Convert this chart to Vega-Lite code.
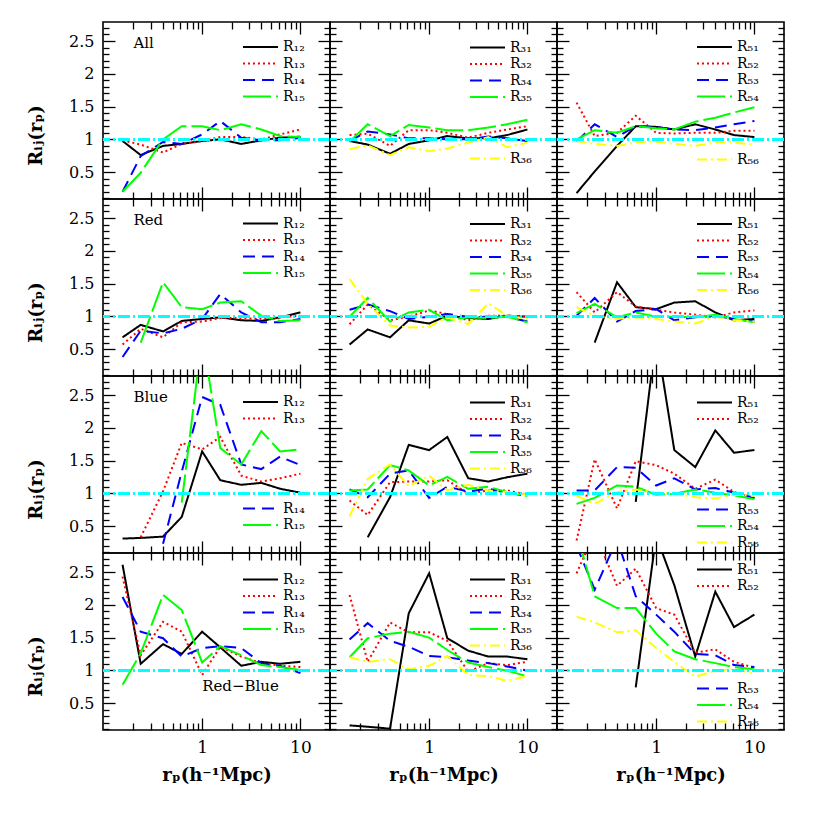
{
"$schema":"https://vega.github.io/schema/vega-lite/v6.json",
"background":"white",
"padding":{"left":26,"top":20,"right":5,"bottom":5},
"config":{
 "view":{"stroke":"black","strokeWidth":1.6},
 "axis":{"grid":false,"domain":false,"tickColor":"black","tickWidth":1.3,"labelFont":"DejaVu Serif","labelFontSize":16,"labelColor":"black","titleFont":"DejaVu Serif","titleFontSize":18,"titleFontWeight":"bold","titleColor":"black","labelOverlap":false,"labelFlush":false},
 "legend":{"orient":"none","symbolType":"stroke","symbolSize":1225,"symbolStrokeWidth":2,"labelFont":"DejaVu Serif","labelFontSize":14,"labelColor":"black","labelOffset":4,"rowPadding":0.5,"clipHeight":16,"padding":0,"labelLimit":0}
},
"datasets":{
"A1":[
{"s":"R₁₂","x":0.155,"y":0.975},{"s":"R₁₂","x":0.237,"y":0.76},{"s":"R₁₂","x":0.4,"y":0.9},{"s":"R₁₂","x":0.62,"y":0.93},{"s":"R₁₂","x":1,"y":0.975},{"s":"R₁₂","x":1.53,"y":1.0},{"s":"R₁₂","x":2.5,"y":0.93},{"s":"R₁₂","x":4,"y":0.985},{"s":"R₁₂","x":6.2,"y":1.025},{"s":"R₁₂","x":10,"y":1.04},
{"s":"R₁₃","x":0.155,"y":0.985},{"s":"R₁₃","x":0.237,"y":0.92},{"s":"R₁₃","x":0.4,"y":0.8},{"s":"R₁₃","x":0.62,"y":0.93},{"s":"R₁₃","x":1,"y":0.975},{"s":"R₁₃","x":1.53,"y":1.035},{"s":"R₁₃","x":2.5,"y":1.035},{"s":"R₁₃","x":4,"y":1.0},{"s":"R₁₃","x":6.2,"y":1.075},{"s":"R₁₃","x":10,"y":1.15},
{"s":"R₁₄","x":0.155,"y":0.2},{"s":"R₁₄","x":0.237,"y":0.745},{"s":"R₁₄","x":0.4,"y":0.96},{"s":"R₁₄","x":0.62,"y":0.93},{"s":"R₁₄","x":1,"y":1.075},{"s":"R₁₄","x":1.53,"y":1.28},{"s":"R₁₄","x":2.5,"y":1.025},{"s":"R₁₄","x":4,"y":0.985},{"s":"R₁₄","x":6.2,"y":0.985},{"s":"R₁₄","x":10,"y":1.025},
{"s":"R₁₅","x":0.155,"y":0.2},{"s":"R₁₅","x":0.237,"y":0.49},{"s":"R₁₅","x":0.4,"y":1.0},{"s":"R₁₅","x":0.62,"y":1.2},{"s":"R₁₅","x":1,"y":1.2},{"s":"R₁₅","x":1.53,"y":1.14},{"s":"R₁₅","x":2.5,"y":1.23},{"s":"R₁₅","x":4,"y":1.15},{"s":"R₁₅","x":6.2,"y":1.05},{"s":"R₁₅","x":10,"y":1.035}
],
"A2":[
{"s":"R₃₁","x":0.155,"y":0.975},{"s":"R₃₁","x":0.237,"y":0.92},{"s":"R₃₁","x":0.4,"y":0.78},{"s":"R₃₁","x":0.62,"y":0.93},{"s":"R₃₁","x":1,"y":0.985},{"s":"R₃₁","x":1.53,"y":1.05},{"s":"R₃₁","x":2.5,"y":1.015},{"s":"R₃₁","x":4,"y":1.015},{"s":"R₃₁","x":6.2,"y":1.065},{"s":"R₃₁","x":10,"y":1.15},
{"s":"R₃₂","x":0.155,"y":1.065},{"s":"R₃₂","x":0.237,"y":1.087},{"s":"R₃₂","x":0.4,"y":0.9},{"s":"R₃₂","x":0.62,"y":1.14},{"s":"R₃₂","x":1,"y":1.14},{"s":"R₃₂","x":1.53,"y":1.1},{"s":"R₃₂","x":2.5,"y":1.025},{"s":"R₃₂","x":4,"y":1.1},{"s":"R₃₂","x":6.2,"y":1.15},{"s":"R₃₂","x":10,"y":1.2},
{"s":"R₃₄","x":0.155,"y":0.975},{"s":"R₃₄","x":0.237,"y":1.12},{"s":"R₃₄","x":0.4,"y":1.075},{"s":"R₃₄","x":0.62,"y":1.015},{"s":"R₃₄","x":1,"y":1.015},{"s":"R₃₄","x":1.53,"y":1.0},{"s":"R₃₄","x":2.5,"y":1.0},{"s":"R₃₄","x":4,"y":1.045},{"s":"R₃₄","x":6.2,"y":1.015},{"s":"R₃₄","x":10,"y":0.975},
{"s":"R₃₅","x":0.155,"y":0.965},{"s":"R₃₅","x":0.237,"y":1.23},{"s":"R₃₅","x":0.4,"y":1.05},{"s":"R₃₅","x":0.62,"y":1.22},{"s":"R₃₅","x":1,"y":1.18},{"s":"R₃₅","x":1.53,"y":1.14},{"s":"R₃₅","x":2.5,"y":1.14},{"s":"R₃₅","x":4,"y":1.18},{"s":"R₃₅","x":6.2,"y":1.23},{"s":"R₃₅","x":10,"y":1.3},
{"s":"R₃₆","x":0.155,"y":0.85},{"s":"R₃₆","x":0.237,"y":0.91},{"s":"R₃₆","x":0.4,"y":0.76},{"s":"R₃₆","x":0.62,"y":0.88},{"s":"R₃₆","x":1,"y":0.82},{"s":"R₃₆","x":1.53,"y":0.86},{"s":"R₃₆","x":2.5,"y":0.95},{"s":"R₃₆","x":4,"y":1.035},{"s":"R₃₆","x":6.2,"y":0.88},{"s":"R₃₆","x":10,"y":0.95}
],
"A3":[
{"s":"R₅₁","x":0.155,"y":0.18},{"s":"R₅₁","x":0.237,"y":0.51},{"s":"R₅₁","x":0.4,"y":0.9},{"s":"R₅₁","x":0.62,"y":1.2},{"s":"R₅₁","x":1,"y":1.19},{"s":"R₅₁","x":1.53,"y":1.15},{"s":"R₅₁","x":2.5,"y":1.23},{"s":"R₅₁","x":4,"y":1.15},{"s":"R₅₁","x":6.2,"y":1.065},{"s":"R₅₁","x":10,"y":1.035},
{"s":"R₅₂","x":0.155,"y":1.56},{"s":"R₅₂","x":0.237,"y":1.05},{"s":"R₅₂","x":0.4,"y":1.1},{"s":"R₅₂","x":0.62,"y":1.36},{"s":"R₅₂","x":1,"y":1.1},{"s":"R₅₂","x":1.53,"y":1.09},{"s":"R₅₂","x":2.5,"y":1.1},{"s":"R₅₂","x":4,"y":1.1},{"s":"R₅₂","x":6.2,"y":1.13},{"s":"R₅₂","x":10,"y":1.13},
{"s":"R₅₃","x":0.155,"y":0.965},{"s":"R₅₃","x":0.237,"y":1.23},{"s":"R₅₃","x":0.4,"y":1.035},{"s":"R₅₃","x":0.62,"y":1.2},{"s":"R₅₃","x":1,"y":1.19},{"s":"R₅₃","x":1.53,"y":1.15},{"s":"R₅₃","x":2.5,"y":1.14},{"s":"R₅₃","x":4,"y":1.18},{"s":"R₅₃","x":6.2,"y":1.23},{"s":"R₅₃","x":10,"y":1.28},
{"s":"R₅₄","x":0.155,"y":1.0},{"s":"R₅₄","x":0.237,"y":1.14},{"s":"R₅₄","x":0.4,"y":1.1},{"s":"R₅₄","x":0.62,"y":1.2},{"s":"R₅₄","x":1,"y":1.17},{"s":"R₅₄","x":1.53,"y":1.15},{"s":"R₅₄","x":2.5,"y":1.27},{"s":"R₅₄","x":4,"y":1.33},{"s":"R₅₄","x":6.2,"y":1.41},{"s":"R₅₄","x":10,"y":1.49},
{"s":"R₅₆","x":0.155,"y":0.975},{"s":"R₅₆","x":0.237,"y":0.93},{"s":"R₅₆","x":0.4,"y":0.9},{"s":"R₅₆","x":0.62,"y":0.95},{"s":"R₅₆","x":1,"y":0.965},{"s":"R₅₆","x":1.53,"y":0.93},{"s":"R₅₆","x":2.5,"y":0.9},{"s":"R₅₆","x":4,"y":0.95},{"s":"R₅₆","x":6.2,"y":0.95},{"s":"R₅₆","x":10,"y":0.92}
],
"B1":[
{"s":"R₁₂","x":0.155,"y":0.68},{"s":"R₁₂","x":0.237,"y":0.87},{"s":"R₁₂","x":0.4,"y":0.77},{"s":"R₁₂","x":0.62,"y":0.93},{"s":"R₁₂","x":1,"y":0.96},{"s":"R₁₂","x":1.53,"y":0.985},{"s":"R₁₂","x":2.5,"y":0.94},{"s":"R₁₂","x":4,"y":0.93},{"s":"R₁₂","x":6.2,"y":0.985},{"s":"R₁₂","x":10,"y":1.06},
{"s":"R₁₃","x":0.155,"y":0.57},{"s":"R₁₃","x":0.237,"y":0.81},{"s":"R₁₃","x":0.4,"y":0.68},{"s":"R₁₃","x":0.62,"y":0.91},{"s":"R₁₃","x":1,"y":0.92},{"s":"R₁₃","x":1.53,"y":0.975},{"s":"R₁₃","x":2.5,"y":0.975},{"s":"R₁₃","x":4,"y":0.96},{"s":"R₁₃","x":6.2,"y":0.985},{"s":"R₁₃","x":10,"y":1.01},
{"s":"R₁₄","x":0.155,"y":0.38},{"s":"R₁₄","x":0.237,"y":0.78},{"s":"R₁₄","x":0.4,"y":0.74},{"s":"R₁₄","x":0.62,"y":0.81},{"s":"R₁₄","x":1,"y":0.96},{"s":"R₁₄","x":1.53,"y":1.34},{"s":"R₁₄","x":2.5,"y":1.06},{"s":"R₁₄","x":4,"y":0.91},{"s":"R₁₄","x":6.2,"y":0.91},{"s":"R₁₄","x":10,"y":0.96},
{"s":"R₁₅","x":0.237,"y":0.6},{"s":"R₁₅","x":0.4,"y":1.52},{"s":"R₁₅","x":0.62,"y":1.14},{"s":"R₁₅","x":1,"y":1.11},{"s":"R₁₅","x":1.53,"y":1.21},{"s":"R₁₅","x":2.5,"y":1.23},{"s":"R₁₅","x":4,"y":1.01},{"s":"R₁₅","x":6.2,"y":0.93},{"s":"R₁₅","x":10,"y":0.94}
],
"B2":[
{"s":"R₃₁","x":0.155,"y":0.57},{"s":"R₃₁","x":0.237,"y":0.8},{"s":"R₃₁","x":0.4,"y":0.68},{"s":"R₃₁","x":0.62,"y":0.94},{"s":"R₃₁","x":1,"y":0.89},{"s":"R₃₁","x":1.53,"y":1.01},{"s":"R₃₁","x":2.5,"y":0.975},{"s":"R₃₁","x":4,"y":0.96},{"s":"R₃₁","x":6.2,"y":1.01},{"s":"R₃₁","x":10,"y":0.995},
{"s":"R₃₂","x":0.155,"y":0.88},{"s":"R₃₂","x":0.237,"y":1.18},{"s":"R₃₂","x":0.4,"y":0.94},{"s":"R₃₂","x":0.62,"y":0.995},{"s":"R₃₂","x":1,"y":1.09},{"s":"R₃₂","x":1.53,"y":1.035},{"s":"R₃₂","x":2.5,"y":0.94},{"s":"R₃₂","x":4,"y":1.01},{"s":"R₃₂","x":6.2,"y":1.01},{"s":"R₃₂","x":10,"y":0.995},
{"s":"R₃₄","x":0.155,"y":1.1},{"s":"R₃₄","x":0.237,"y":1.18},{"s":"R₃₄","x":0.4,"y":1.08},{"s":"R₃₄","x":0.62,"y":0.96},{"s":"R₃₄","x":1,"y":0.995},{"s":"R₃₄","x":1.53,"y":1.035},{"s":"R₃₄","x":2.5,"y":0.995},{"s":"R₃₄","x":4,"y":0.985},{"s":"R₃₄","x":6.2,"y":0.995},{"s":"R₃₄","x":10,"y":0.92},
{"s":"R₃₅","x":0.155,"y":0.995},{"s":"R₃₅","x":0.237,"y":1.28},{"s":"R₃₅","x":0.4,"y":0.92},{"s":"R₃₅","x":0.62,"y":1.06},{"s":"R₃₅","x":1,"y":1.1},{"s":"R₃₅","x":1.53,"y":0.94},{"s":"R₃₅","x":2.5,"y":0.985},{"s":"R₃₅","x":4,"y":0.975},{"s":"R₃₅","x":6.2,"y":0.995},{"s":"R₃₅","x":10,"y":0.91},
{"s":"R₃₆","x":0.155,"y":1.57},{"s":"R₃₆","x":0.237,"y":1.19},{"s":"R₃₆","x":0.4,"y":0.86},{"s":"R₃₆","x":0.62,"y":0.83},{"s":"R₃₆","x":1,"y":0.84},{"s":"R₃₆","x":1.53,"y":0.985},{"s":"R₃₆","x":2.5,"y":0.88},{"s":"R₃₆","x":4,"y":1.2},{"s":"R₃₆","x":6.2,"y":1.01},{"s":"R₃₆","x":10,"y":0.96}
],
"B3":[
{"s":"R₅₁","x":0.237,"y":0.6},{"s":"R₅₁","x":0.4,"y":1.52},{"s":"R₅₁","x":0.62,"y":1.14},{"s":"R₅₁","x":1,"y":1.11},{"s":"R₅₁","x":1.53,"y":1.21},{"s":"R₅₁","x":2.5,"y":1.23},{"s":"R₅₁","x":4,"y":1.06},{"s":"R₅₁","x":6.2,"y":0.94},{"s":"R₅₁","x":10,"y":0.96},
{"s":"R₅₂","x":0.155,"y":1.37},{"s":"R₅₂","x":0.237,"y":1.06},{"s":"R₅₂","x":0.4,"y":1.37},{"s":"R₅₂","x":0.62,"y":1.15},{"s":"R₅₂","x":1,"y":1.1},{"s":"R₅₂","x":1.53,"y":1.06},{"s":"R₅₂","x":2.5,"y":1.025},{"s":"R₅₂","x":4,"y":0.985},{"s":"R₅₂","x":6.2,"y":1.06},{"s":"R₅₂","x":10,"y":1.09},
{"s":"R₅₃","x":0.155,"y":1.01},{"s":"R₅₃","x":0.237,"y":1.28},{"s":"R₅₃","x":0.4,"y":0.92},{"s":"R₅₃","x":0.62,"y":1.08},{"s":"R₅₃","x":1,"y":1.11},{"s":"R₅₃","x":1.53,"y":0.94},{"s":"R₅₃","x":2.5,"y":0.985},{"s":"R₅₃","x":4,"y":1.01},{"s":"R₅₃","x":6.2,"y":0.96},{"s":"R₅₃","x":10,"y":0.92},
{"s":"R₅₄","x":0.155,"y":1.05},{"s":"R₅₄","x":0.237,"y":1.19},{"s":"R₅₄","x":0.4,"y":0.985},{"s":"R₅₄","x":0.62,"y":1.06},{"s":"R₅₄","x":1,"y":0.995},{"s":"R₅₄","x":1.53,"y":0.995},{"s":"R₅₄","x":2.5,"y":0.985},{"s":"R₅₄","x":4,"y":1.025},{"s":"R₅₄","x":6.2,"y":0.96},{"s":"R₅₄","x":10,"y":0.91},
{"s":"R₅₆","x":0.155,"y":1.14},{"s":"R₅₆","x":0.237,"y":1.01},{"s":"R₅₆","x":0.4,"y":0.96},{"s":"R₅₆","x":0.62,"y":0.985},{"s":"R₅₆","x":1,"y":0.96},{"s":"R₅₆","x":1.53,"y":0.92},{"s":"R₅₆","x":2.5,"y":0.89},{"s":"R₅₆","x":4,"y":0.995},{"s":"R₅₆","x":6.2,"y":0.94},{"s":"R₅₆","x":10,"y":0.92}
],
"C1":[
{"s":"R₁₂","x":0.155,"y":0.31},{"s":"R₁₂","x":0.237,"y":0.32},{"s":"R₁₂","x":0.4,"y":0.34},{"s":"R₁₂","x":0.62,"y":0.64},{"s":"R₁₂","x":1,"y":1.64},{"s":"R₁₂","x":1.53,"y":1.2},{"s":"R₁₂","x":2.5,"y":1.13},{"s":"R₁₂","x":4,"y":1.16},{"s":"R₁₂","x":6.2,"y":1.07},{"s":"R₁₂","x":10,"y":1.01},
{"s":"R₁₃","x":0.237,"y":0.33},{"s":"R₁₃","x":0.4,"y":1.03},{"s":"R₁₃","x":0.62,"y":1.77},{"s":"R₁₃","x":1,"y":1.67},{"s":"R₁₃","x":1.53,"y":1.86},{"s":"R₁₃","x":2.5,"y":1.27},{"s":"R₁₃","x":4,"y":1.18},{"s":"R₁₃","x":6.2,"y":1.23},{"s":"R₁₃","x":10,"y":1.3},
{"s":"R₁₄","x":0.4,"y":0.23},{"s":"R₁₄","x":0.62,"y":1.33},{"s":"R₁₄","x":1,"y":2.47},{"s":"R₁₄","x":1.53,"y":2.35},{"s":"R₁₄","x":2.5,"y":1.44},{"s":"R₁₄","x":4,"y":1.37},{"s":"R₁₄","x":6.2,"y":1.56},{"s":"R₁₄","x":10,"y":1.43},
{"s":"R₁₅","x":0.62,"y":0.86},{"s":"R₁₅","x":1,"y":3.4},{"s":"R₁₅","x":1.53,"y":1.69},{"s":"R₁₅","x":2.5,"y":1.44},{"s":"R₁₅","x":4,"y":1.95},{"s":"R₁₅","x":6.2,"y":1.64},{"s":"R₁₅","x":10,"y":1.67}
],
"C2":[
{"s":"R₃₁","x":0.237,"y":0.33},{"s":"R₃₁","x":0.4,"y":0.94},{"s":"R₃₁","x":0.62,"y":1.74},{"s":"R₃₁","x":1,"y":1.66},{"s":"R₃₁","x":1.53,"y":1.86},{"s":"R₃₁","x":2.5,"y":1.23},{"s":"R₃₁","x":4,"y":1.18},{"s":"R₃₁","x":6.2,"y":1.245},{"s":"R₃₁","x":10,"y":1.3},
{"s":"R₃₂","x":0.155,"y":0.89},{"s":"R₃₂","x":0.237,"y":0.67},{"s":"R₃₂","x":0.4,"y":1.17},{"s":"R₃₂","x":0.62,"y":1.18},{"s":"R₃₂","x":1,"y":1.18},{"s":"R₃₂","x":1.53,"y":1.2},{"s":"R₃₂","x":2.5,"y":0.995},{"s":"R₃₂","x":4,"y":1.045},{"s":"R₃₂","x":6.2,"y":1.045},{"s":"R₃₂","x":10,"y":0.98},
{"s":"R₃₄","x":0.155,"y":1.06},{"s":"R₃₄","x":0.237,"y":0.94},{"s":"R₃₄","x":0.4,"y":1.3},{"s":"R₃₄","x":0.62,"y":1.35},{"s":"R₃₄","x":1,"y":0.93},{"s":"R₃₄","x":1.53,"y":1.1},{"s":"R₃₄","x":2.5,"y":1.03},{"s":"R₃₄","x":4,"y":1.07},{"s":"R₃₄","x":6.2,"y":1.01},{"s":"R₃₄","x":10,"y":0.96},
{"s":"R₃₅","x":0.155,"y":1.045},{"s":"R₃₅","x":0.237,"y":1.06},{"s":"R₃₅","x":0.4,"y":1.43},{"s":"R₃₅","x":0.62,"y":1.35},{"s":"R₃₅","x":1,"y":1.12},{"s":"R₃₅","x":1.53,"y":1.25},{"s":"R₃₅","x":2.5,"y":1.07},{"s":"R₃₅","x":4,"y":1.1},{"s":"R₃₅","x":6.2,"y":1.02},{"s":"R₃₅","x":10,"y":0.96},
{"s":"R₃₆","x":0.155,"y":0.65},{"s":"R₃₆","x":0.237,"y":1.22},{"s":"R₃₆","x":0.4,"y":1.44},{"s":"R₃₆","x":0.62,"y":1.11},{"s":"R₃₆","x":1,"y":1.27},{"s":"R₃₆","x":1.53,"y":1.045},{"s":"R₃₆","x":2.5,"y":1.13},{"s":"R₃₆","x":4,"y":1.045},{"s":"R₃₆","x":6.2,"y":1.02},{"s":"R₃₆","x":10,"y":0.98}
],
"C3":[
{"s":"R₅₁","x":0.62,"y":0.87},{"s":"R₅₁","x":1,"y":3.4},{"s":"R₅₁","x":1.53,"y":1.66},{"s":"R₅₁","x":2.5,"y":1.4},{"s":"R₅₁","x":4,"y":1.96},{"s":"R₅₁","x":6.2,"y":1.62},{"s":"R₅₁","x":10,"y":1.66},
{"s":"R₅₂","x":0.155,"y":0.28},{"s":"R₅₂","x":0.237,"y":1.52},{"s":"R₅₂","x":0.4,"y":0.77},{"s":"R₅₂","x":0.62,"y":1.49},{"s":"R₅₂","x":1,"y":1.43},{"s":"R₅₂","x":1.53,"y":1.3},{"s":"R₅₂","x":2.5,"y":1.07},{"s":"R₅₂","x":4,"y":1.21},{"s":"R₅₂","x":6.2,"y":1.02},{"s":"R₅₂","x":10,"y":0.93},
{"s":"R₅₃","x":0.155,"y":1.045},{"s":"R₅₃","x":0.237,"y":1.045},{"s":"R₅₃","x":0.4,"y":1.4},{"s":"R₅₃","x":0.62,"y":1.39},{"s":"R₅₃","x":1,"y":1.12},{"s":"R₅₃","x":1.53,"y":1.23},{"s":"R₅₃","x":2.5,"y":1.06},{"s":"R₅₃","x":4,"y":1.08},{"s":"R₅₃","x":6.2,"y":1.01},{"s":"R₅₃","x":10,"y":0.93},
{"s":"R₅₄","x":0.155,"y":0.84},{"s":"R₅₄","x":0.237,"y":0.93},{"s":"R₅₄","x":0.4,"y":1.12},{"s":"R₅₄","x":0.62,"y":1.1},{"s":"R₅₄","x":1,"y":0.98},{"s":"R₅₄","x":1.53,"y":0.995},{"s":"R₅₄","x":2.5,"y":1.06},{"s":"R₅₄","x":4,"y":1.01},{"s":"R₅₄","x":6.2,"y":0.97},{"s":"R₅₄","x":10,"y":0.91},
{"s":"R₅₆","x":0.155,"y":0.96},{"s":"R₅₆","x":0.237,"y":0.84},{"s":"R₅₆","x":0.4,"y":1.02},{"s":"R₅₆","x":0.62,"y":1.06},{"s":"R₅₆","x":1,"y":1.01},{"s":"R₅₆","x":1.53,"y":0.995},{"s":"R₅₆","x":2.5,"y":0.94},{"s":"R₅₆","x":4,"y":0.92},{"s":"R₅₆","x":6.2,"y":0.98},{"s":"R₅₆","x":10,"y":0.96}
],
"D1":[
{"s":"R₁₂","x":0.155,"y":2.61},{"s":"R₁₂","x":0.237,"y":1.1},{"s":"R₁₂","x":0.4,"y":1.4},{"s":"R₁₂","x":0.62,"y":1.25},{"s":"R₁₂","x":1,"y":1.59},{"s":"R₁₂","x":1.53,"y":1.35},{"s":"R₁₂","x":2.5,"y":1.07},{"s":"R₁₂","x":4,"y":1.13},{"s":"R₁₂","x":6.2,"y":1.1},{"s":"R₁₂","x":10,"y":1.13},
{"s":"R₁₃","x":0.155,"y":2.43},{"s":"R₁₃","x":0.237,"y":1.23},{"s":"R₁₃","x":0.4,"y":1.74},{"s":"R₁₃","x":0.62,"y":1.59},{"s":"R₁₃","x":1,"y":0.93},{"s":"R₁₃","x":1.53,"y":1.36},{"s":"R₁₃","x":2.5,"y":1.21},{"s":"R₁₃","x":4,"y":1.11},{"s":"R₁₃","x":6.2,"y":1.07},{"s":"R₁₃","x":10,"y":1.05},
{"s":"R₁₄","x":0.155,"y":2.12},{"s":"R₁₄","x":0.237,"y":1.59},{"s":"R₁₄","x":0.4,"y":1.49},{"s":"R₁₄","x":0.62,"y":1.21},{"s":"R₁₄","x":1,"y":1.34},{"s":"R₁₄","x":1.53,"y":1.37},{"s":"R₁₄","x":2.5,"y":1.34},{"s":"R₁₄","x":4,"y":1.11},{"s":"R₁₄","x":6.2,"y":1.07},{"s":"R₁₄","x":10,"y":0.96},
{"s":"R₁₅","x":0.155,"y":0.78},{"s":"R₁₅","x":0.237,"y":1.26},{"s":"R₁₅","x":0.4,"y":2.15},{"s":"R₁₅","x":0.62,"y":1.92},{"s":"R₁₅","x":1,"y":1.12},{"s":"R₁₅","x":1.53,"y":1.37},{"s":"R₁₅","x":2.5,"y":1.23},{"s":"R₁₅","x":4,"y":1.08},{"s":"R₁₅","x":6.2,"y":1.05},{"s":"R₁₅","x":10,"y":1.005}
],
"D2":[
{"s":"R₃₁","x":0.155,"y":0.16},{"s":"R₃₁","x":0.237,"y":0.14},{"s":"R₃₁","x":0.4,"y":0.11},{"s":"R₃₁","x":0.62,"y":1.87},{"s":"R₃₁","x":1,"y":2.48},{"s":"R₃₁","x":1.53,"y":1.49},{"s":"R₃₁","x":2.5,"y":1.3},{"s":"R₃₁","x":4,"y":1.21},{"s":"R₃₁","x":6.2,"y":1.21},{"s":"R₃₁","x":10,"y":1.17},
{"s":"R₃₂","x":0.155,"y":2.15},{"s":"R₃₂","x":0.237,"y":1.13},{"s":"R₃₂","x":0.4,"y":1.73},{"s":"R₃₂","x":0.62,"y":1.58},{"s":"R₃₂","x":1,"y":1.58},{"s":"R₃₂","x":1.53,"y":1.45},{"s":"R₃₂","x":2.5,"y":0.98},{"s":"R₃₂","x":4,"y":1.11},{"s":"R₃₂","x":6.2,"y":1.08},{"s":"R₃₂","x":10,"y":1.13},
{"s":"R₃₄","x":0.155,"y":1.47},{"s":"R₃₄","x":0.237,"y":1.72},{"s":"R₃₄","x":0.4,"y":1.45},{"s":"R₃₄","x":0.62,"y":1.36},{"s":"R₃₄","x":1,"y":1.22},{"s":"R₃₄","x":1.53,"y":1.2},{"s":"R₃₄","x":2.5,"y":1.15},{"s":"R₃₄","x":4,"y":1.11},{"s":"R₃₄","x":6.2,"y":1.06},{"s":"R₃₄","x":10,"y":0.995},
{"s":"R₃₅","x":0.155,"y":1.2},{"s":"R₃₅","x":0.237,"y":1.49},{"s":"R₃₅","x":0.4,"y":1.56},{"s":"R₃₅","x":0.62,"y":1.59},{"s":"R₃₅","x":1,"y":1.5},{"s":"R₃₅","x":1.53,"y":1.31},{"s":"R₃₅","x":2.5,"y":1.12},{"s":"R₃₅","x":4,"y":1.05},{"s":"R₃₅","x":6.2,"y":0.995},{"s":"R₃₅","x":10,"y":0.91},
{"s":"R₃₆","x":0.155,"y":1.2},{"s":"R₃₆","x":0.237,"y":1.13},{"s":"R₃₆","x":0.4,"y":1.17},{"s":"R₃₆","x":0.62,"y":1.015},{"s":"R₃₆","x":1,"y":1.07},{"s":"R₃₆","x":1.53,"y":1.22},{"s":"R₃₆","x":2.5,"y":0.93},{"s":"R₃₆","x":4,"y":0.91},{"s":"R₃₆","x":6.2,"y":0.84},{"s":"R₃₆","x":10,"y":0.91}
],
"D3":[
{"s":"R₅₁","x":0.62,"y":0.74},{"s":"R₅₁","x":1,"y":3.05},{"s":"R₅₁","x":1.53,"y":2.3},{"s":"R₅₁","x":2.5,"y":1.21},{"s":"R₅₁","x":4,"y":2.2},{"s":"R₅₁","x":6.2,"y":1.66},{"s":"R₅₁","x":10,"y":1.85},
{"s":"R₅₂","x":0.155,"y":2.48},{"s":"R₅₂","x":0.237,"y":3.1},{"s":"R₅₂","x":0.4,"y":2.29},{"s":"R₅₂","x":0.62,"y":2.55},{"s":"R₅₂","x":1,"y":1.95},{"s":"R₅₂","x":1.53,"y":1.85},{"s":"R₅₂","x":2.5,"y":1.27},{"s":"R₅₂","x":4,"y":1.32},{"s":"R₅₂","x":6.2,"y":1.13},{"s":"R₅₂","x":10,"y":1.04},
{"s":"R₅₃","x":0.155,"y":2.9},{"s":"R₅₃","x":0.237,"y":2.23},{"s":"R₅₃","x":0.4,"y":3.0},{"s":"R₅₃","x":0.62,"y":2.13},{"s":"R₅₃","x":1,"y":1.85},{"s":"R₅₃","x":1.53,"y":1.59},{"s":"R₅₃","x":2.5,"y":1.25},{"s":"R₅₃","x":4,"y":1.23},{"s":"R₅₃","x":6.2,"y":1.08},{"s":"R₅₃","x":10,"y":1.05},
{"s":"R₅₄","x":0.155,"y":3.1},{"s":"R₅₄","x":0.237,"y":2.13},{"s":"R₅₄","x":0.4,"y":1.95},{"s":"R₅₄","x":0.62,"y":1.95},{"s":"R₅₄","x":1,"y":1.56},{"s":"R₅₄","x":1.53,"y":1.29},{"s":"R₅₄","x":2.5,"y":1.17},{"s":"R₅₄","x":4,"y":1.11},{"s":"R₅₄","x":6.2,"y":1.05},{"s":"R₅₄","x":10,"y":1.015},
{"s":"R₅₆","x":0.155,"y":1.82},{"s":"R₅₆","x":0.237,"y":1.73},{"s":"R₅₆","x":0.4,"y":1.58},{"s":"R₅₆","x":0.62,"y":1.61},{"s":"R₅₆","x":1,"y":1.34},{"s":"R₅₆","x":1.53,"y":1.13},{"s":"R₅₆","x":2.5,"y":0.9},{"s":"R₅₆","x":4,"y":0.995},{"s":"R₅₆","x":6.2,"y":1.015},{"s":"R₅₆","x":10,"y":0.95}
]
},
"columns":3,
"spacing":0,
"bounds":"flush",
"resolve":{"scale":{"x":"independent","y":"independent","color":"independent","strokeDash":"independent"},"axis":{"x":"independent","y":"independent"},"legend":{"color":"independent","strokeDash":"independent"}},
"concat":[
{"width":227,"height":177,"data":{"name":"A1"},"layer":[
 {"mark":{"type":"line","clip":true,"strokeWidth":2},"encoding":{
  "x":{"field":"x","type":"quantitative","scale":{"type":"log","domain":[0.098,20],"nice":false},"axis":{"orient":"bottom","values":[1,10],"tickSize":-12,"labels":false,"title":null}},
  "y":{"field":"y","type":"quantitative","scale":{"domain":[0.09,2.79],"nice":false,"zero":false},"axis":{"orient":"left","values":[0.5,1,1.5,2,2.5],"tickSize":-12,"labelPadding":21,"format":"~g","title":"Rᵢⱼ(rₚ)","titleX":-67,"titleY":113,"titleBaseline":"middle"}},
  "color":{"field":"s","type":"nominal","scale":{"domain":["R₁₂","R₁₃","R₁₄","R₁₅"],"range":["#000000","#ff0000","#0000ff","#00ff00"]},"legend":{"title":null,"legendX":139,"legendY":17}},
  "strokeDash":{"field":"s","type":"nominal","scale":{"domain":["R₁₂","R₁₃","R₁₄","R₁₅"],"range":[[1,0],[2,3],[12,7],[28,5]]},"legend":{"title":null,"legendX":139,"legendY":17}}}},
 {"mark":{"type":"rule","color":"#00ffff","strokeWidth":2,"strokeDash":[12,3,2,3]},"encoding":{"y":{"datum":1,"type":"quantitative","axis":{"orient":"left","values":[0.1,0.2,0.3,0.4,0.6,0.7,0.8,0.9,1.1,1.2,1.3,1.4,1.6,1.7,1.8,1.9,2.1,2.2,2.3,2.4,2.6,2.7],"tickSize":-6,"labels":false,"title":null}}}},
 {"mark":{"type":"point","opacity":0,"clip":true},"encoding":{"x":{"field":"x","type":"quantitative","axis":{"orient":"bottom","values":[0.2,0.3,0.4,0.5,0.6,0.7,0.8,0.9,2,3,4,5,6,7,8,9],"tickSize":-7,"labels":false,"title":null}},"y":{"field":"y","type":"quantitative","axis":{"orient":"right","values":[0.5,1,1.5,2,2.5],"tickSize":-12,"labels":false,"title":null}}}},
 {"mark":{"type":"point","opacity":0,"clip":true},"encoding":{"x":{"field":"x","type":"quantitative","axis":{"orient":"top","values":[1,10],"tickSize":-12,"labels":false,"title":null}},"y":{"field":"y","type":"quantitative","axis":{"orient":"right","values":[0.1,0.2,0.3,0.4,0.6,0.7,0.8,0.9,1.1,1.2,1.3,1.4,1.6,1.7,1.8,1.9,2.1,2.2,2.3,2.4,2.6,2.7],"tickSize":-6,"labels":false,"title":null}}}},
 {"mark":{"type":"point","opacity":0,"clip":true},"encoding":{"x":{"field":"x","type":"quantitative","axis":{"orient":"top","values":[0.2,0.3,0.4,0.5,0.6,0.7,0.8,0.9,2,3,4,5,6,7,8,9],"tickSize":-7,"labels":false,"title":null}},"y":{"field":"y","type":"quantitative","axis":null}}},
 {"data":{"values":[{"t":"All"}]},"mark":{"type":"text","align":"left","baseline":"middle","font":"DejaVu Serif","fontSize":15,"color":"black"},"encoding":{"x":{"datum":0.2,"type":"quantitative","axis":null},"y":{"datum":2.47,"type":"quantitative","axis":null},"text":{"field":"t"}}}
],"resolve":{"scale":{"color":"independent","strokeDash":"independent"},"axis":{"x":"independent","y":"independent"}}},

{"width":227,"height":177,"data":{"name":"A2"},"layer":[
 {"transform":[{"filter":{"field":"s","oneOf":["R₃₁","R₃₂","R₃₄","R₃₅"]}}],"mark":{"type":"line","clip":true,"strokeWidth":2},"encoding":{
  "x":{"field":"x","type":"quantitative","scale":{"type":"log","domain":[0.098,20],"nice":false},"axis":{"orient":"bottom","values":[1,10],"tickSize":-12,"labels":false,"title":null}},
  "y":{"field":"y","type":"quantitative","scale":{"domain":[0.09,2.79],"nice":false,"zero":false},"axis":{"orient":"left","values":[0.5,1,1.5,2,2.5],"tickSize":-12,"labels":false,"title":null}},
  "color":{"field":"s","type":"nominal","scale":{"domain":["R₃₁","R₃₂","R₃₄","R₃₅"],"range":["#000000","#ff0000","#0000ff","#00ff00"]},"legend":{"title":null,"legendX":139,"legendY":17.5}},
  "strokeDash":{"field":"s","type":"nominal","scale":{"domain":["R₃₁","R₃₂","R₃₄","R₃₅"],"range":[[1,0],[2,3],[12,7],[28,5]]},"legend":{"title":null,"legendX":139,"legendY":17.5}}}},
 {"transform":[{"filter":{"field":"s","oneOf":["R₃₆"]}}],"mark":{"type":"line","clip":true,"strokeWidth":2},"encoding":{
  "x":{"field":"x","type":"quantitative","axis":null},"y":{"field":"y","type":"quantitative","axis":null},
  "color":{"field":"s","type":"nominal","scale":{"domain":["R₃₆"],"range":["#ffff00"]},"legend":{"title":null,"legendX":139,"legendY":128.5}},
  "strokeDash":{"field":"s","type":"nominal","scale":{"domain":["R₃₆"],"range":[[10,4,2,4]]},"legend":{"title":null,"legendX":139,"legendY":128.5}}}},
 {"mark":{"type":"rule","color":"#00ffff","strokeWidth":2,"strokeDash":[12,3,2,3]},"encoding":{"y":{"datum":1,"type":"quantitative","axis":{"orient":"left","values":[0.1,0.2,0.3,0.4,0.6,0.7,0.8,0.9,1.1,1.2,1.3,1.4,1.6,1.7,1.8,1.9,2.1,2.2,2.3,2.4,2.6,2.7],"tickSize":-6,"labels":false,"title":null}}}},
 {"mark":{"type":"point","opacity":0,"clip":true},"encoding":{"x":{"field":"x","type":"quantitative","axis":{"orient":"bottom","values":[0.2,0.3,0.4,0.5,0.6,0.7,0.8,0.9,2,3,4,5,6,7,8,9],"tickSize":-7,"labels":false,"title":null}},"y":{"field":"y","type":"quantitative","axis":{"orient":"right","values":[0.5,1,1.5,2,2.5],"tickSize":-12,"labels":false,"title":null}}}},
 {"mark":{"type":"point","opacity":0,"clip":true},"encoding":{"x":{"field":"x","type":"quantitative","axis":{"orient":"top","values":[1,10],"tickSize":-12,"labels":false,"title":null}},"y":{"field":"y","type":"quantitative","axis":{"orient":"right","values":[0.1,0.2,0.3,0.4,0.6,0.7,0.8,0.9,1.1,1.2,1.3,1.4,1.6,1.7,1.8,1.9,2.1,2.2,2.3,2.4,2.6,2.7],"tickSize":-6,"labels":false,"title":null}}}},
 {"mark":{"type":"point","opacity":0,"clip":true},"encoding":{"x":{"field":"x","type":"quantitative","axis":{"orient":"top","values":[0.2,0.3,0.4,0.5,0.6,0.7,0.8,0.9,2,3,4,5,6,7,8,9],"tickSize":-7,"labels":false,"title":null}},"y":{"field":"y","type":"quantitative","axis":null}}}
],"resolve":{"scale":{"color":"independent","strokeDash":"independent"},"axis":{"x":"independent","y":"independent"}}},

{"width":227,"height":177,"data":{"name":"A3"},"layer":[
 {"transform":[{"filter":{"field":"s","oneOf":["R₅₁","R₅₂","R₅₃","R₅₄"]}}],"mark":{"type":"line","clip":true,"strokeWidth":2},"encoding":{
  "x":{"field":"x","type":"quantitative","scale":{"type":"log","domain":[0.098,20],"nice":false},"axis":{"orient":"bottom","values":[1,10],"tickSize":-12,"labels":false,"title":null}},
  "y":{"field":"y","type":"quantitative","scale":{"domain":[0.09,2.79],"nice":false,"zero":false},"axis":{"orient":"left","values":[0.5,1,1.5,2,2.5],"tickSize":-12,"labels":false,"title":null}},
  "color":{"field":"s","type":"nominal","scale":{"domain":["R₅₁","R₅₂","R₅₃","R₅₄"],"range":["#000000","#ff0000","#0000ff","#00ff00"]},"legend":{"title":null,"legendX":139,"legendY":17}},
  "strokeDash":{"field":"s","type":"nominal","scale":{"domain":["R₅₁","R₅₂","R₅₃","R₅₄"],"range":[[1,0],[2,3],[12,7],[28,5]]},"legend":{"title":null,"legendX":139,"legendY":17}}}},
 {"transform":[{"filter":{"field":"s","oneOf":["R₅₆"]}}],"mark":{"type":"line","clip":true,"strokeWidth":2},"encoding":{
  "x":{"field":"x","type":"quantitative","axis":null},"y":{"field":"y","type":"quantitative","axis":null},
  "color":{"field":"s","type":"nominal","scale":{"domain":["R₅₆"],"range":["#ffff00"]},"legend":{"title":null,"legendX":139,"legendY":129.5}},
  "strokeDash":{"field":"s","type":"nominal","scale":{"domain":["R₅₆"],"range":[[10,4,2,4]]},"legend":{"title":null,"legendX":139,"legendY":129.5}}}},
 {"mark":{"type":"rule","color":"#00ffff","strokeWidth":2,"strokeDash":[12,3,2,3]},"encoding":{"y":{"datum":1,"type":"quantitative","axis":{"orient":"left","values":[0.1,0.2,0.3,0.4,0.6,0.7,0.8,0.9,1.1,1.2,1.3,1.4,1.6,1.7,1.8,1.9,2.1,2.2,2.3,2.4,2.6,2.7],"tickSize":-6,"labels":false,"title":null}}}},
 {"mark":{"type":"point","opacity":0,"clip":true},"encoding":{"x":{"field":"x","type":"quantitative","axis":{"orient":"bottom","values":[0.2,0.3,0.4,0.5,0.6,0.7,0.8,0.9,2,3,4,5,6,7,8,9],"tickSize":-7,"labels":false,"title":null}},"y":{"field":"y","type":"quantitative","axis":{"orient":"right","values":[0.5,1,1.5,2,2.5],"tickSize":-12,"labels":false,"title":null}}}},
 {"mark":{"type":"point","opacity":0,"clip":true},"encoding":{"x":{"field":"x","type":"quantitative","axis":{"orient":"top","values":[1,10],"tickSize":-12,"labels":false,"title":null}},"y":{"field":"y","type":"quantitative","axis":{"orient":"right","values":[0.1,0.2,0.3,0.4,0.6,0.7,0.8,0.9,1.1,1.2,1.3,1.4,1.6,1.7,1.8,1.9,2.1,2.2,2.3,2.4,2.6,2.7],"tickSize":-6,"labels":false,"title":null}}}},
 {"mark":{"type":"point","opacity":0,"clip":true},"encoding":{"x":{"field":"x","type":"quantitative","axis":{"orient":"top","values":[0.2,0.3,0.4,0.5,0.6,0.7,0.8,0.9,2,3,4,5,6,7,8,9],"tickSize":-7,"labels":false,"title":null}},"y":{"field":"y","type":"quantitative","axis":null}}}
],"resolve":{"scale":{"color":"independent","strokeDash":"independent"},"axis":{"x":"independent","y":"independent"}}},

{"width":227,"height":177,"data":{"name":"B1"},"layer":[
 {"mark":{"type":"line","clip":true,"strokeWidth":2},"encoding":{
  "x":{"field":"x","type":"quantitative","scale":{"type":"log","domain":[0.098,20],"nice":false},"axis":{"orient":"bottom","values":[1,10],"tickSize":-12,"labels":false,"title":null}},
  "y":{"field":"y","type":"quantitative","scale":{"domain":[0.09,2.79],"nice":false,"zero":false},"axis":{"orient":"left","values":[0.5,1,1.5,2,2.5],"tickSize":-12,"labelPadding":21,"format":"~g","title":"Rᵢⱼ(rₚ)","titleX":-67,"titleY":113,"titleBaseline":"middle"}},
  "color":{"field":"s","type":"nominal","scale":{"domain":["R₁₂","R₁₃","R₁₄","R₁₅"],"range":["#000000","#ff0000","#0000ff","#00ff00"]},"legend":{"title":null,"legendX":139,"legendY":16.5}},
  "strokeDash":{"field":"s","type":"nominal","scale":{"domain":["R₁₂","R₁₃","R₁₄","R₁₅"],"range":[[1,0],[2,3],[12,7],[28,5]]},"legend":{"title":null,"legendX":139,"legendY":16.5}}}},
 {"mark":{"type":"rule","color":"#00ffff","strokeWidth":2,"strokeDash":[12,3,2,3]},"encoding":{"y":{"datum":1,"type":"quantitative","axis":{"orient":"left","values":[0.1,0.2,0.3,0.4,0.6,0.7,0.8,0.9,1.1,1.2,1.3,1.4,1.6,1.7,1.8,1.9,2.1,2.2,2.3,2.4,2.6,2.7],"tickSize":-6,"labels":false,"title":null}}}},
 {"mark":{"type":"point","opacity":0,"clip":true},"encoding":{"x":{"field":"x","type":"quantitative","axis":{"orient":"bottom","values":[0.2,0.3,0.4,0.5,0.6,0.7,0.8,0.9,2,3,4,5,6,7,8,9],"tickSize":-7,"labels":false,"title":null}},"y":{"field":"y","type":"quantitative","axis":{"orient":"right","values":[0.5,1,1.5,2,2.5],"tickSize":-12,"labels":false,"title":null}}}},
 {"mark":{"type":"point","opacity":0,"clip":true},"encoding":{"x":{"field":"x","type":"quantitative","axis":{"orient":"top","values":[1,10],"tickSize":-12,"labels":false,"title":null}},"y":{"field":"y","type":"quantitative","axis":{"orient":"right","values":[0.1,0.2,0.3,0.4,0.6,0.7,0.8,0.9,1.1,1.2,1.3,1.4,1.6,1.7,1.8,1.9,2.1,2.2,2.3,2.4,2.6,2.7],"tickSize":-6,"labels":false,"title":null}}}},
 {"mark":{"type":"point","opacity":0,"clip":true},"encoding":{"x":{"field":"x","type":"quantitative","axis":{"orient":"top","values":[0.2,0.3,0.4,0.5,0.6,0.7,0.8,0.9,2,3,4,5,6,7,8,9],"tickSize":-7,"labels":false,"title":null}},"y":{"field":"y","type":"quantitative","axis":null}}},
 {"data":{"values":[{"t":"Red"}]},"mark":{"type":"text","align":"left","baseline":"middle","font":"DejaVu Serif","fontSize":15,"color":"black"},"encoding":{"x":{"datum":0.2,"type":"quantitative","axis":null},"y":{"datum":2.47,"type":"quantitative","axis":null},"text":{"field":"t"}}}
],"resolve":{"scale":{"color":"independent","strokeDash":"independent"},"axis":{"x":"independent","y":"independent"}}},

{"width":227,"height":177,"data":{"name":"B2"},"layer":[
 {"mark":{"type":"line","clip":true,"strokeWidth":2},"encoding":{
  "x":{"field":"x","type":"quantitative","scale":{"type":"log","domain":[0.098,20],"nice":false},"axis":{"orient":"bottom","values":[1,10],"tickSize":-12,"labels":false,"title":null}},
  "y":{"field":"y","type":"quantitative","scale":{"domain":[0.09,2.79],"nice":false,"zero":false},"axis":{"orient":"left","values":[0.5,1,1.5,2,2.5],"tickSize":-12,"labels":false,"title":null}},
  "color":{"field":"s","type":"nominal","scale":{"domain":["R₃₁","R₃₂","R₃₄","R₃₅","R₃₆"],"range":["#000000","#ff0000","#0000ff","#00ff00","#ffff00"]},"legend":{"title":null,"legendX":139,"legendY":17}},
  "strokeDash":{"field":"s","type":"nominal","scale":{"domain":["R₃₁","R₃₂","R₃₄","R₃₅","R₃₆"],"range":[[1,0],[2,3],[12,7],[28,5],[10,4,2,4]]},"legend":{"title":null,"legendX":139,"legendY":17}}}},
 {"mark":{"type":"rule","color":"#00ffff","strokeWidth":2,"strokeDash":[12,3,2,3]},"encoding":{"y":{"datum":1,"type":"quantitative","axis":{"orient":"left","values":[0.1,0.2,0.3,0.4,0.6,0.7,0.8,0.9,1.1,1.2,1.3,1.4,1.6,1.7,1.8,1.9,2.1,2.2,2.3,2.4,2.6,2.7],"tickSize":-6,"labels":false,"title":null}}}},
 {"mark":{"type":"point","opacity":0,"clip":true},"encoding":{"x":{"field":"x","type":"quantitative","axis":{"orient":"bottom","values":[0.2,0.3,0.4,0.5,0.6,0.7,0.8,0.9,2,3,4,5,6,7,8,9],"tickSize":-7,"labels":false,"title":null}},"y":{"field":"y","type":"quantitative","axis":{"orient":"right","values":[0.5,1,1.5,2,2.5],"tickSize":-12,"labels":false,"title":null}}}},
 {"mark":{"type":"point","opacity":0,"clip":true},"encoding":{"x":{"field":"x","type":"quantitative","axis":{"orient":"top","values":[1,10],"tickSize":-12,"labels":false,"title":null}},"y":{"field":"y","type":"quantitative","axis":{"orient":"right","values":[0.1,0.2,0.3,0.4,0.6,0.7,0.8,0.9,1.1,1.2,1.3,1.4,1.6,1.7,1.8,1.9,2.1,2.2,2.3,2.4,2.6,2.7],"tickSize":-6,"labels":false,"title":null}}}},
 {"mark":{"type":"point","opacity":0,"clip":true},"encoding":{"x":{"field":"x","type":"quantitative","axis":{"orient":"top","values":[0.2,0.3,0.4,0.5,0.6,0.7,0.8,0.9,2,3,4,5,6,7,8,9],"tickSize":-7,"labels":false,"title":null}},"y":{"field":"y","type":"quantitative","axis":null}}}
],"resolve":{"scale":{"color":"independent","strokeDash":"independent"},"axis":{"x":"independent","y":"independent"}}},

{"width":227,"height":177,"data":{"name":"B3"},"layer":[
 {"mark":{"type":"line","clip":true,"strokeWidth":2},"encoding":{
  "x":{"field":"x","type":"quantitative","scale":{"type":"log","domain":[0.098,20],"nice":false},"axis":{"orient":"bottom","values":[1,10],"tickSize":-12,"labels":false,"title":null}},
  "y":{"field":"y","type":"quantitative","scale":{"domain":[0.09,2.79],"nice":false,"zero":false},"axis":{"orient":"left","values":[0.5,1,1.5,2,2.5],"tickSize":-12,"labels":false,"title":null}},
  "color":{"field":"s","type":"nominal","scale":{"domain":["R₅₁","R₅₂","R₅₃","R₅₄","R₅₆"],"range":["#000000","#ff0000","#0000ff","#00ff00","#ffff00"]},"legend":{"title":null,"legendX":139,"legendY":17}},
  "strokeDash":{"field":"s","type":"nominal","scale":{"domain":["R₅₁","R₅₂","R₅₃","R₅₄","R₅₆"],"range":[[1,0],[2,3],[12,7],[28,5],[10,4,2,4]]},"legend":{"title":null,"legendX":139,"legendY":17}}}},
 {"mark":{"type":"rule","color":"#00ffff","strokeWidth":2,"strokeDash":[12,3,2,3]},"encoding":{"y":{"datum":1,"type":"quantitative","axis":{"orient":"left","values":[0.1,0.2,0.3,0.4,0.6,0.7,0.8,0.9,1.1,1.2,1.3,1.4,1.6,1.7,1.8,1.9,2.1,2.2,2.3,2.4,2.6,2.7],"tickSize":-6,"labels":false,"title":null}}}},
 {"mark":{"type":"point","opacity":0,"clip":true},"encoding":{"x":{"field":"x","type":"quantitative","axis":{"orient":"bottom","values":[0.2,0.3,0.4,0.5,0.6,0.7,0.8,0.9,2,3,4,5,6,7,8,9],"tickSize":-7,"labels":false,"title":null}},"y":{"field":"y","type":"quantitative","axis":{"orient":"right","values":[0.5,1,1.5,2,2.5],"tickSize":-12,"labels":false,"title":null}}}},
 {"mark":{"type":"point","opacity":0,"clip":true},"encoding":{"x":{"field":"x","type":"quantitative","axis":{"orient":"top","values":[1,10],"tickSize":-12,"labels":false,"title":null}},"y":{"field":"y","type":"quantitative","axis":{"orient":"right","values":[0.1,0.2,0.3,0.4,0.6,0.7,0.8,0.9,1.1,1.2,1.3,1.4,1.6,1.7,1.8,1.9,2.1,2.2,2.3,2.4,2.6,2.7],"tickSize":-6,"labels":false,"title":null}}}},
 {"mark":{"type":"point","opacity":0,"clip":true},"encoding":{"x":{"field":"x","type":"quantitative","axis":{"orient":"top","values":[0.2,0.3,0.4,0.5,0.6,0.7,0.8,0.9,2,3,4,5,6,7,8,9],"tickSize":-7,"labels":false,"title":null}},"y":{"field":"y","type":"quantitative","axis":null}}}
],"resolve":{"scale":{"color":"independent","strokeDash":"independent"},"axis":{"x":"independent","y":"independent"}}},

{"width":227,"height":177,"data":{"name":"C1"},"layer":[
 {"transform":[{"filter":{"field":"s","oneOf":["R₁₂","R₁₃"]}}],"mark":{"type":"line","clip":true,"strokeWidth":2},"encoding":{
  "x":{"field":"x","type":"quantitative","scale":{"type":"log","domain":[0.098,20],"nice":false},"axis":{"orient":"bottom","values":[1,10],"tickSize":-12,"labels":false,"title":null}},
  "y":{"field":"y","type":"quantitative","scale":{"domain":[0.09,2.79],"nice":false,"zero":false},"axis":{"orient":"left","values":[0.5,1,1.5,2,2.5],"tickSize":-12,"labelPadding":21,"format":"~g","title":"Rᵢⱼ(rₚ)","titleX":-67,"titleY":113,"titleBaseline":"middle"}},
  "color":{"field":"s","type":"nominal","scale":{"domain":["R₁₂","R₁₃"],"range":["#000000","#ff0000"]},"legend":{"title":null,"legendX":139,"legendY":18}},
  "strokeDash":{"field":"s","type":"nominal","scale":{"domain":["R₁₂","R₁₃"],"range":[[1,0],[2,3]]},"legend":{"title":null,"legendX":139,"legendY":18}}}},
 {"transform":[{"filter":{"field":"s","oneOf":["R₁₄","R₁₅"]}}],"mark":{"type":"line","clip":true,"strokeWidth":2},"encoding":{
  "x":{"field":"x","type":"quantitative","axis":null},"y":{"field":"y","type":"quantitative","axis":null},
  "color":{"field":"s","type":"nominal","scale":{"domain":["R₁₄","R₁₅"],"range":["#0000ff","#00ff00"]},"legend":{"title":null,"legendX":139,"legendY":124.5}},
  "strokeDash":{"field":"s","type":"nominal","scale":{"domain":["R₁₄","R₁₅"],"range":[[12,7],[28,5]]},"legend":{"title":null,"legendX":139,"legendY":124.5}}}},
 {"mark":{"type":"rule","color":"#00ffff","strokeWidth":2,"strokeDash":[12,3,2,3]},"encoding":{"y":{"datum":1,"type":"quantitative","axis":{"orient":"left","values":[0.1,0.2,0.3,0.4,0.6,0.7,0.8,0.9,1.1,1.2,1.3,1.4,1.6,1.7,1.8,1.9,2.1,2.2,2.3,2.4,2.6,2.7],"tickSize":-6,"labels":false,"title":null}}}},
 {"mark":{"type":"point","opacity":0,"clip":true},"encoding":{"x":{"field":"x","type":"quantitative","axis":{"orient":"bottom","values":[0.2,0.3,0.4,0.5,0.6,0.7,0.8,0.9,2,3,4,5,6,7,8,9],"tickSize":-7,"labels":false,"title":null}},"y":{"field":"y","type":"quantitative","axis":{"orient":"right","values":[0.5,1,1.5,2,2.5],"tickSize":-12,"labels":false,"title":null}}}},
 {"mark":{"type":"point","opacity":0,"clip":true},"encoding":{"x":{"field":"x","type":"quantitative","axis":{"orient":"top","values":[1,10],"tickSize":-12,"labels":false,"title":null}},"y":{"field":"y","type":"quantitative","axis":{"orient":"right","values":[0.1,0.2,0.3,0.4,0.6,0.7,0.8,0.9,1.1,1.2,1.3,1.4,1.6,1.7,1.8,1.9,2.1,2.2,2.3,2.4,2.6,2.7],"tickSize":-6,"labels":false,"title":null}}}},
 {"mark":{"type":"point","opacity":0,"clip":true},"encoding":{"x":{"field":"x","type":"quantitative","axis":{"orient":"top","values":[0.2,0.3,0.4,0.5,0.6,0.7,0.8,0.9,2,3,4,5,6,7,8,9],"tickSize":-7,"labels":false,"title":null}},"y":{"field":"y","type":"quantitative","axis":null}}},
 {"data":{"values":[{"t":"Blue"}]},"mark":{"type":"text","align":"left","baseline":"middle","font":"DejaVu Serif","fontSize":15,"color":"black"},"encoding":{"x":{"datum":0.2,"type":"quantitative","axis":null},"y":{"datum":2.47,"type":"quantitative","axis":null},"text":{"field":"t"}}}
],"resolve":{"scale":{"color":"independent","strokeDash":"independent"},"axis":{"x":"independent","y":"independent"}}},

{"width":227,"height":177,"data":{"name":"C2"},"layer":[
 {"mark":{"type":"line","clip":true,"strokeWidth":2},"encoding":{
  "x":{"field":"x","type":"quantitative","scale":{"type":"log","domain":[0.098,20],"nice":false},"axis":{"orient":"bottom","values":[1,10],"tickSize":-12,"labels":false,"title":null}},
  "y":{"field":"y","type":"quantitative","scale":{"domain":[0.09,2.79],"nice":false,"zero":false},"axis":{"orient":"left","values":[0.5,1,1.5,2,2.5],"tickSize":-12,"labels":false,"title":null}},
  "color":{"field":"s","type":"nominal","scale":{"domain":["R₃₁","R₃₂","R₃₄","R₃₅","R₃₆"],"range":["#000000","#ff0000","#0000ff","#00ff00","#ffff00"]},"legend":{"title":null,"legendX":139,"legendY":18.5}},
  "strokeDash":{"field":"s","type":"nominal","scale":{"domain":["R₃₁","R₃₂","R₃₄","R₃₅","R₃₆"],"range":[[1,0],[2,3],[12,7],[28,5],[10,4,2,4]]},"legend":{"title":null,"legendX":139,"legendY":18.5}}}},
 {"mark":{"type":"rule","color":"#00ffff","strokeWidth":2,"strokeDash":[12,3,2,3]},"encoding":{"y":{"datum":1,"type":"quantitative","axis":{"orient":"left","values":[0.1,0.2,0.3,0.4,0.6,0.7,0.8,0.9,1.1,1.2,1.3,1.4,1.6,1.7,1.8,1.9,2.1,2.2,2.3,2.4,2.6,2.7],"tickSize":-6,"labels":false,"title":null}}}},
 {"mark":{"type":"point","opacity":0,"clip":true},"encoding":{"x":{"field":"x","type":"quantitative","axis":{"orient":"bottom","values":[0.2,0.3,0.4,0.5,0.6,0.7,0.8,0.9,2,3,4,5,6,7,8,9],"tickSize":-7,"labels":false,"title":null}},"y":{"field":"y","type":"quantitative","axis":{"orient":"right","values":[0.5,1,1.5,2,2.5],"tickSize":-12,"labels":false,"title":null}}}},
 {"mark":{"type":"point","opacity":0,"clip":true},"encoding":{"x":{"field":"x","type":"quantitative","axis":{"orient":"top","values":[1,10],"tickSize":-12,"labels":false,"title":null}},"y":{"field":"y","type":"quantitative","axis":{"orient":"right","values":[0.1,0.2,0.3,0.4,0.6,0.7,0.8,0.9,1.1,1.2,1.3,1.4,1.6,1.7,1.8,1.9,2.1,2.2,2.3,2.4,2.6,2.7],"tickSize":-6,"labels":false,"title":null}}}},
 {"mark":{"type":"point","opacity":0,"clip":true},"encoding":{"x":{"field":"x","type":"quantitative","axis":{"orient":"top","values":[0.2,0.3,0.4,0.5,0.6,0.7,0.8,0.9,2,3,4,5,6,7,8,9],"tickSize":-7,"labels":false,"title":null}},"y":{"field":"y","type":"quantitative","axis":null}}}
],"resolve":{"scale":{"color":"independent","strokeDash":"independent"},"axis":{"x":"independent","y":"independent"}}},

{"width":227,"height":177,"data":{"name":"C3"},"layer":[
 {"transform":[{"filter":{"field":"s","oneOf":["R₅₁","R₅₂"]}}],"mark":{"type":"line","clip":true,"strokeWidth":2},"encoding":{
  "x":{"field":"x","type":"quantitative","scale":{"type":"log","domain":[0.098,20],"nice":false},"axis":{"orient":"bottom","values":[1,10],"tickSize":-12,"labels":false,"title":null}},
  "y":{"field":"y","type":"quantitative","scale":{"domain":[0.09,2.79],"nice":false,"zero":false},"axis":{"orient":"left","values":[0.5,1,1.5,2,2.5],"tickSize":-12,"labels":false,"title":null}},
  "color":{"field":"s","type":"nominal","scale":{"domain":["R₅₁","R₅₂"],"range":["#000000","#ff0000"]},"legend":{"title":null,"legendX":139,"legendY":18.5}},
  "strokeDash":{"field":"s","type":"nominal","scale":{"domain":["R₅₁","R₅₂"],"range":[[1,0],[2,3]]},"legend":{"title":null,"legendX":139,"legendY":18.5}}}},
 {"transform":[{"filter":{"field":"s","oneOf":["R₅₃","R₅₄","R₅₆"]}}],"mark":{"type":"line","clip":true,"strokeWidth":2},"encoding":{
  "x":{"field":"x","type":"quantitative","axis":null},"y":{"field":"y","type":"quantitative","axis":null},
  "color":{"field":"s","type":"nominal","scale":{"domain":["R₅₃","R₅₄","R₅₆"],"range":["#0000ff","#00ff00","#ffff00"]},"legend":{"title":null,"legendX":139,"legendY":125.5}},
  "strokeDash":{"field":"s","type":"nominal","scale":{"domain":["R₅₃","R₅₄","R₅₆"],"range":[[12,7],[28,5],[10,4,2,4]]},"legend":{"title":null,"legendX":139,"legendY":125.5}}}},
 {"mark":{"type":"rule","color":"#00ffff","strokeWidth":2,"strokeDash":[12,3,2,3]},"encoding":{"y":{"datum":1,"type":"quantitative","axis":{"orient":"left","values":[0.1,0.2,0.3,0.4,0.6,0.7,0.8,0.9,1.1,1.2,1.3,1.4,1.6,1.7,1.8,1.9,2.1,2.2,2.3,2.4,2.6,2.7],"tickSize":-6,"labels":false,"title":null}}}},
 {"mark":{"type":"point","opacity":0,"clip":true},"encoding":{"x":{"field":"x","type":"quantitative","axis":{"orient":"bottom","values":[0.2,0.3,0.4,0.5,0.6,0.7,0.8,0.9,2,3,4,5,6,7,8,9],"tickSize":-7,"labels":false,"title":null}},"y":{"field":"y","type":"quantitative","axis":{"orient":"right","values":[0.5,1,1.5,2,2.5],"tickSize":-12,"labels":false,"title":null}}}},
 {"mark":{"type":"point","opacity":0,"clip":true},"encoding":{"x":{"field":"x","type":"quantitative","axis":{"orient":"top","values":[1,10],"tickSize":-12,"labels":false,"title":null}},"y":{"field":"y","type":"quantitative","axis":{"orient":"right","values":[0.1,0.2,0.3,0.4,0.6,0.7,0.8,0.9,1.1,1.2,1.3,1.4,1.6,1.7,1.8,1.9,2.1,2.2,2.3,2.4,2.6,2.7],"tickSize":-6,"labels":false,"title":null}}}},
 {"mark":{"type":"point","opacity":0,"clip":true},"encoding":{"x":{"field":"x","type":"quantitative","axis":{"orient":"top","values":[0.2,0.3,0.4,0.5,0.6,0.7,0.8,0.9,2,3,4,5,6,7,8,9],"tickSize":-7,"labels":false,"title":null}},"y":{"field":"y","type":"quantitative","axis":null}}}
],"resolve":{"scale":{"color":"independent","strokeDash":"independent"},"axis":{"x":"independent","y":"independent"}}},

{"width":227,"height":177,"data":{"name":"D1"},"layer":[
 {"mark":{"type":"line","clip":true,"strokeWidth":2},"encoding":{
  "x":{"field":"x","type":"quantitative","scale":{"type":"log","domain":[0.098,20],"nice":false},"axis":{"orient":"bottom","values":[1,10],"tickSize":-12,"labelPadding":21,"format":"~g","labelFontSize":17,"title":"rₚ(h⁻¹Mpc)","titleY":45,"titleBaseline":"middle"}},
  "y":{"field":"y","type":"quantitative","scale":{"domain":[0.09,2.79],"nice":false,"zero":false},"axis":{"orient":"left","values":[0.5,1,1.5,2,2.5],"tickSize":-12,"labelPadding":21,"format":"~g","title":"Rᵢⱼ(rₚ)","titleX":-67,"titleY":113,"titleBaseline":"middle"}},
  "color":{"field":"s","type":"nominal","scale":{"domain":["R₁₂","R₁₃","R₁₄","R₁₅"],"range":["#000000","#ff0000","#0000ff","#00ff00"]},"legend":{"title":null,"legendX":139,"legendY":18.5}},
  "strokeDash":{"field":"s","type":"nominal","scale":{"domain":["R₁₂","R₁₃","R₁₄","R₁₅"],"range":[[1,0],[2,3],[12,7],[28,5]]},"legend":{"title":null,"legendX":139,"legendY":18.5}}}},
 {"mark":{"type":"rule","color":"#00ffff","strokeWidth":2,"strokeDash":[12,3,2,3]},"encoding":{"y":{"datum":1,"type":"quantitative","axis":{"orient":"left","values":[0.1,0.2,0.3,0.4,0.6,0.7,0.8,0.9,1.1,1.2,1.3,1.4,1.6,1.7,1.8,1.9,2.1,2.2,2.3,2.4,2.6,2.7],"tickSize":-6,"labels":false,"title":null}}}},
 {"mark":{"type":"point","opacity":0,"clip":true},"encoding":{"x":{"field":"x","type":"quantitative","axis":{"orient":"bottom","values":[0.2,0.3,0.4,0.5,0.6,0.7,0.8,0.9,2,3,4,5,6,7,8,9],"tickSize":-7,"labels":false,"title":null}},"y":{"field":"y","type":"quantitative","axis":{"orient":"right","values":[0.5,1,1.5,2,2.5],"tickSize":-12,"labels":false,"title":null}}}},
 {"mark":{"type":"point","opacity":0,"clip":true},"encoding":{"x":{"field":"x","type":"quantitative","axis":{"orient":"top","values":[1,10],"tickSize":-12,"labels":false,"title":null}},"y":{"field":"y","type":"quantitative","axis":{"orient":"right","values":[0.1,0.2,0.3,0.4,0.6,0.7,0.8,0.9,1.1,1.2,1.3,1.4,1.6,1.7,1.8,1.9,2.1,2.2,2.3,2.4,2.6,2.7],"tickSize":-6,"labels":false,"title":null}}}},
 {"mark":{"type":"point","opacity":0,"clip":true},"encoding":{"x":{"field":"x","type":"quantitative","axis":{"orient":"top","values":[0.2,0.3,0.4,0.5,0.6,0.7,0.8,0.9,2,3,4,5,6,7,8,9],"tickSize":-7,"labels":false,"title":null}},"y":{"field":"y","type":"quantitative","axis":null}}},
 {"data":{"values":[{"t":"Red−Blue"}]},"mark":{"type":"text","align":"left","baseline":"middle","font":"DejaVu Serif","fontSize":15,"color":"black"},"encoding":{"x":{"datum":1.0,"type":"quantitative","axis":null},"y":{"datum":0.76,"type":"quantitative","axis":null},"text":{"field":"t"}}}
],"resolve":{"scale":{"color":"independent","strokeDash":"independent"},"axis":{"x":"independent","y":"independent"}}},

{"width":227,"height":177,"data":{"name":"D2"},"layer":[
 {"mark":{"type":"line","clip":true,"strokeWidth":2},"encoding":{
  "x":{"field":"x","type":"quantitative","scale":{"type":"log","domain":[0.098,20],"nice":false},"axis":{"orient":"bottom","values":[1,10],"tickSize":-12,"labelPadding":21,"format":"~g","labelFontSize":17,"title":"rₚ(h⁻¹Mpc)","titleY":45,"titleBaseline":"middle"}},
  "y":{"field":"y","type":"quantitative","scale":{"domain":[0.09,2.79],"nice":false,"zero":false},"axis":{"orient":"left","values":[0.5,1,1.5,2,2.5],"tickSize":-12,"labels":false,"title":null}},
  "color":{"field":"s","type":"nominal","scale":{"domain":["R₃₁","R₃₂","R₃₄","R₃₅","R₃₆"],"range":["#000000","#ff0000","#0000ff","#00ff00","#ffff00"]},"legend":{"title":null,"legendX":139,"legendY":18.5}},
  "strokeDash":{"field":"s","type":"nominal","scale":{"domain":["R₃₁","R₃₂","R₃₄","R₃₅","R₃₆"],"range":[[1,0],[2,3],[12,7],[28,5],[10,4,2,4]]},"legend":{"title":null,"legendX":139,"legendY":18.5}}}},
 {"mark":{"type":"rule","color":"#00ffff","strokeWidth":2,"strokeDash":[12,3,2,3]},"encoding":{"y":{"datum":1,"type":"quantitative","axis":{"orient":"left","values":[0.1,0.2,0.3,0.4,0.6,0.7,0.8,0.9,1.1,1.2,1.3,1.4,1.6,1.7,1.8,1.9,2.1,2.2,2.3,2.4,2.6,2.7],"tickSize":-6,"labels":false,"title":null}}}},
 {"mark":{"type":"point","opacity":0,"clip":true},"encoding":{"x":{"field":"x","type":"quantitative","axis":{"orient":"bottom","values":[0.2,0.3,0.4,0.5,0.6,0.7,0.8,0.9,2,3,4,5,6,7,8,9],"tickSize":-7,"labels":false,"title":null}},"y":{"field":"y","type":"quantitative","axis":{"orient":"right","values":[0.5,1,1.5,2,2.5],"tickSize":-12,"labels":false,"title":null}}}},
 {"mark":{"type":"point","opacity":0,"clip":true},"encoding":{"x":{"field":"x","type":"quantitative","axis":{"orient":"top","values":[1,10],"tickSize":-12,"labels":false,"title":null}},"y":{"field":"y","type":"quantitative","axis":{"orient":"right","values":[0.1,0.2,0.3,0.4,0.6,0.7,0.8,0.9,1.1,1.2,1.3,1.4,1.6,1.7,1.8,1.9,2.1,2.2,2.3,2.4,2.6,2.7],"tickSize":-6,"labels":false,"title":null}}}},
 {"mark":{"type":"point","opacity":0,"clip":true},"encoding":{"x":{"field":"x","type":"quantitative","axis":{"orient":"top","values":[0.2,0.3,0.4,0.5,0.6,0.7,0.8,0.9,2,3,4,5,6,7,8,9],"tickSize":-7,"labels":false,"title":null}},"y":{"field":"y","type":"quantitative","axis":null}}}
],"resolve":{"scale":{"color":"independent","strokeDash":"independent"},"axis":{"x":"independent","y":"independent"}}},

{"width":227,"height":177,"data":{"name":"D3"},"layer":[
 {"transform":[{"filter":{"field":"s","oneOf":["R₅₁","R₅₂"]}}],"mark":{"type":"line","clip":true,"strokeWidth":2},"encoding":{
  "x":{"field":"x","type":"quantitative","scale":{"type":"log","domain":[0.098,20],"nice":false},"axis":{"orient":"bottom","values":[1,10],"tickSize":-12,"labelPadding":21,"format":"~g","labelFontSize":17,"title":"rₚ(h⁻¹Mpc)","titleY":45,"titleBaseline":"middle"}},
  "y":{"field":"y","type":"quantitative","scale":{"domain":[0.09,2.79],"nice":false,"zero":false},"axis":{"orient":"left","values":[0.5,1,1.5,2,2.5],"tickSize":-12,"labels":false,"title":null}},
  "color":{"field":"s","type":"nominal","scale":{"domain":["R₅₁","R₅₂"],"range":["#000000","#ff0000"]},"legend":{"title":null,"legendX":139,"legendY":8.5}},
  "strokeDash":{"field":"s","type":"nominal","scale":{"domain":["R₅₁","R₅₂"],"range":[[1,0],[2,3]]},"legend":{"title":null,"legendX":139,"legendY":8.5}}}},
 {"transform":[{"filter":{"field":"s","oneOf":["R₅₃","R₅₄","R₅₆"]}}],"mark":{"type":"line","clip":true,"strokeWidth":2},"encoding":{
  "x":{"field":"x","type":"quantitative","axis":null},"y":{"field":"y","type":"quantitative","axis":null},
  "color":{"field":"s","type":"nominal","scale":{"domain":["R₅₃","R₅₄","R₅₆"],"range":["#0000ff","#00ff00","#ffff00"]},"legend":{"title":null,"legendX":139,"legendY":127.5}},
  "strokeDash":{"field":"s","type":"nominal","scale":{"domain":["R₅₃","R₅₄","R₅₆"],"range":[[12,7],[28,5],[10,4,2,4]]},"legend":{"title":null,"legendX":139,"legendY":127.5}}}},
 {"mark":{"type":"rule","color":"#00ffff","strokeWidth":2,"strokeDash":[12,3,2,3]},"encoding":{"y":{"datum":1,"type":"quantitative","axis":{"orient":"left","values":[0.1,0.2,0.3,0.4,0.6,0.7,0.8,0.9,1.1,1.2,1.3,1.4,1.6,1.7,1.8,1.9,2.1,2.2,2.3,2.4,2.6,2.7],"tickSize":-6,"labels":false,"title":null}}}},
 {"mark":{"type":"point","opacity":0,"clip":true},"encoding":{"x":{"field":"x","type":"quantitative","axis":{"orient":"bottom","values":[0.2,0.3,0.4,0.5,0.6,0.7,0.8,0.9,2,3,4,5,6,7,8,9],"tickSize":-7,"labels":false,"title":null}},"y":{"field":"y","type":"quantitative","axis":{"orient":"right","values":[0.5,1,1.5,2,2.5],"tickSize":-12,"labels":false,"title":null}}}},
 {"mark":{"type":"point","opacity":0,"clip":true},"encoding":{"x":{"field":"x","type":"quantitative","axis":{"orient":"top","values":[1,10],"tickSize":-12,"labels":false,"title":null}},"y":{"field":"y","type":"quantitative","axis":{"orient":"right","values":[0.1,0.2,0.3,0.4,0.6,0.7,0.8,0.9,1.1,1.2,1.3,1.4,1.6,1.7,1.8,1.9,2.1,2.2,2.3,2.4,2.6,2.7],"tickSize":-6,"labels":false,"title":null}}}},
 {"mark":{"type":"point","opacity":0,"clip":true},"encoding":{"x":{"field":"x","type":"quantitative","axis":{"orient":"top","values":[0.2,0.3,0.4,0.5,0.6,0.7,0.8,0.9,2,3,4,5,6,7,8,9],"tickSize":-7,"labels":false,"title":null}},"y":{"field":"y","type":"quantitative","axis":null}}}
],"resolve":{"scale":{"color":"independent","strokeDash":"independent"},"axis":{"x":"independent","y":"independent"}}}
]
}
